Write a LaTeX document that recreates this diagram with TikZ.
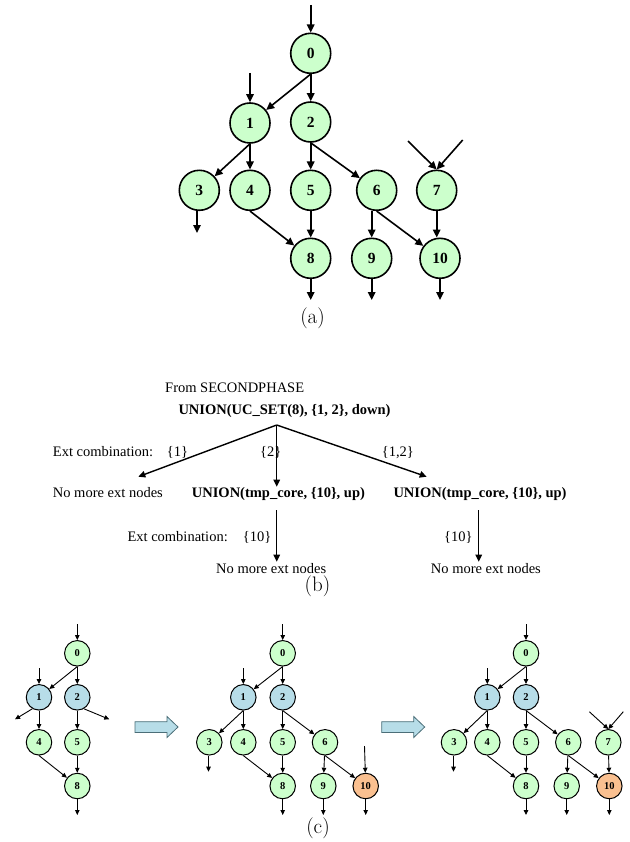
\documentclass[tikz,border=0pt]{standalone}
\usepackage{fontspec}
\newfontfamily\tms{Liberation Serif}
\usepackage{xcolor}
\usepackage{tikz}
\usetikzlibrary{arrows.meta,positioning,calc}

\definecolor{nodegreen}{RGB}{204,255,204}
\definecolor{nodeblue}{RGB}{183,221,232}
\definecolor{nodeorange}{RGB}{250,192,144}
\definecolor{blockfill}{RGB}{183,221,232}
\definecolor{blockedge}{RGB}{75,110,120}

\begin{document}
\begin{tikzpicture}[x=1pt, y=-1pt,
  bnode/.style={circle, draw, line width=1.6pt, fill=nodegreen, minimum size=40pt,
    inner sep=0pt, font=\tms\bfseries\fontsize{15.5}{18}\selectfont},
  snode/.style={circle, draw, line width=1pt, fill=nodegreen, minimum size=25.5pt,
    inner sep=0pt, font=\tms\bfseries\fontsize{10.5}{12}\selectfont},
  core/.style={fill=nodeblue},
  newext/.style={fill=nodeorange},
  barrow/.style={-{Triangle[length=8pt,width=7.5pt]}, line width=1.6pt},
  tarrow/.style={-{Triangle[length=7pt,width=6.5pt]}, line width=1.4pt},
  sarrow/.style={-{Triangle[length=5pt,width=4.5pt]}, line width=0.9pt},
  btext/.style={font=\tms\fontsize{14.5}{17}\selectfont, inner sep=0pt, anchor=base west},
  sublabel/.style={font=\fontsize{21}{25}\selectfont, inner sep=0pt},
  blockarr/.style={draw=blockedge, fill=blockfill, line width=0.8pt}]
  \useasboundingbox (0,0) rectangle (629,842);

  % (a) the whole graph
  \node[bnode] (a0) at (310.7,53.3) {0};
  \node[bnode] (a1) at (250,123) {1};
  \node[bnode] (a2) at (310.7,122) {2};
  \node[bnode] (a3) at (199.3,190.3) {3};
  \node[bnode] (a4) at (250,190.3) {4};
  \node[bnode] (a5) at (310.7,190.3) {5};
  \node[bnode] (a6) at (376.7,190.3) {6};
  \node[bnode] (a7) at (436.7,190.3) {7};
  \node[bnode] (a8) at (310.7,258.3) {8};
  \node[bnode] (a9) at (371.7,258.3) {9};
  \node[bnode] (a10) at (440,258.3) {10};
  \coordinate (a0in) at (310.7,5);
  \coordinate (a1in) at (250,73);
  \coordinate (a7inl) at (408,141);
  \coordinate (a7inr) at (462.7,140);
  \coordinate (a3out) at (197,233);
  \coordinate (a8out) at (310.7,300);
  \coordinate (a9out) at (371.7,300);
  \coordinate (a10out) at (440,300);

  \draw[barrow] (a0in) -- (a0);
  \draw[barrow] (a1in) -- (a1);
  \draw[barrow] (a7inl) -- (a7.north);
  \draw[barrow] (a7inr) -- (a7.north);
  \draw[barrow] (a0.south) -- (a1);
  \draw[barrow] (a0) -- (a2);
  \draw[barrow] (a1.south) -- (a3);
  \draw[barrow] (a1) -- (a4);
  \draw[barrow] (a2) -- (a5);
  \draw[barrow] (a2.south) -- (a6);
  \draw[barrow] (a4.south) -- (a8);
  \draw[barrow] (a5) -- (a8);
  \draw[barrow] (a6.south -| a9) -- (a9);
  \draw[barrow] (a6.south) -- (a10);
  \draw[barrow] (a7.south) -- (a7.south |- a10.north);
  \draw[barrow] (a3.south -| a3out) -- (a3out);
  \draw[barrow] (a8) -- (a8out);
  \draw[barrow] (a9) -- (a9out);
  \draw[barrow] (a10) -- (a10out);
  \node[sublabel] (capa) at (312.5,318) {(a)};

  % (b) search tree of the unions
  \node[btext] (from) at (165,392.7) {From SECONDPHASE};
  \node[btext, font=\tms\bfseries\fontsize{14.5}{17}\selectfont] (root) at (178.3,414)
    {UNION(UC\_SET(8), \{1, 2\}, down)};
  \node[btext] (ext1) at (52.7,456) {Ext combination:};
  \node[btext] (lbl1) at (166.7,456) {\{1\}};
  \node[btext] (lbl2) at (260,456) {\{2\}};
  \node[btext] (lbl12) at (381.7,456) {\{1,2\}};
  \node[btext] (leftend) at (52.7,497.7) {No more ext nodes};
  \node[btext, font=\tms\bfseries\fontsize{14.5}{17}\selectfont] (midun) at (191.7,497.7)
    {UNION(tmp\_core, \{10\}, up)};
  \node[btext, font=\tms\bfseries\fontsize{14.5}{17}\selectfont] (rightun) at (393.3,497.7)
    {UNION(tmp\_core, \{10\}, up)};
  \node[btext] (ext2) at (127.3,541) {Ext combination:};
  \node[btext] (lbl10) at (242.7,541) {\{10\}};
  \node[btext] (lbl10r) at (444,541) {\{10\}};
  \node[btext] (midend) at (216,573.3) {No more ext nodes};
  \node[btext] (rightend) at (430.7,573.3) {No more ext nodes};
  \coordinate (apex) at (276.7,425);
  \coordinate (tleft) at (138.3,476.7);
  \coordinate (tmid) at (276.7,486.7);
  \coordinate (tright) at (426.7,476.7);
  \coordinate (midtop) at (276.7,510);
  \coordinate (midbot) at (276.7,561.7);
  \coordinate (righttop) at (478.7,510);
  \coordinate (rightbot) at (478.7,561.7);

  \draw[tarrow] (apex) -- (tleft);
  \draw[tarrow] (apex) -- (tmid);
  \draw[tarrow] (apex) -- (tright);
  \draw[tarrow] (midtop) -- (midbot);
  \draw[tarrow] (righttop) -- (rightbot);
  \node[sublabel] (capb) at (317.5,586) {(b)};

  % (c) left: the union core
  \node[snode] (l0) at (77.3,653.3) {0};
  \node[snode, core] (l1) at (39,697.3) {1};
  \node[snode, core] (l2) at (77.3,697.3) {2};
  \node[snode] (l4) at (39,742.3) {4};
  \node[snode] (l5) at (77.3,742.3) {5};
  \node[snode] (l8) at (77.3,786) {8};
  \coordinate (l0in) at (77.3,624.3);
  \coordinate (l1in) at (39,668.3);
  \coordinate (l1out) at (15,719.3);
  \coordinate (l2out) at (109.3,719.3);
  \coordinate (l8out) at (77.3,815);

  \draw[sarrow] (l0in) -- (l0);
  \draw[sarrow] (l1in) -- (l1);
  \draw[sarrow] (l0.south) -- (l1);
  \draw[sarrow] (l0) -- (l2);
  \draw[sarrow] (l1.-120) -- (l1out);
  \draw[sarrow] (l2.-60) -- (l2out);
  \draw[sarrow] (l1) -- (l4);
  \draw[sarrow] (l2) -- (l5);
  \draw[sarrow] (l4.south) -- (l8);
  \draw[sarrow] (l5) -- (l8);
  \draw[sarrow] (l8) -- (l8out);

  \draw[blockarr] (135,721.7) -- (167,721.7) -- (167,716.5) -- (178,727)
    -- (167,737.5) -- (167,732.5) -- (135,732.5) -- cycle;

  % (c) middle: after down expansion
  \node[snode] (m0) at (282.7,653.3) {0};
  \node[snode, core] (m1) at (243.3,697.3) {1};
  \node[snode, core] (m2) at (282.7,697.3) {2};
  \node[snode] (m3) at (209.3,742.3) {3};
  \node[snode] (m4) at (243.3,742.3) {4};
  \node[snode] (m5) at (282.7,742.3) {5};
  \node[snode] (m6) at (325,742.3) {6};
  \node[snode] (m8) at (282.7,786) {8};
  \node[snode] (m9) at (323.3,786) {9};
  \node[snode, newext] (m10) at (365.7,786) {10};
  \coordinate (m0in) at (282.7,624.3);
  \coordinate (m1in) at (243.3,668.3);
  \coordinate (m10in) at (364.5,746);
  \coordinate (m3out) at (208.5,771.7);
  \coordinate (m8out) at (282.7,815);
  \coordinate (m9out) at (323.3,815);
  \coordinate (m10out) at (365.7,815);

  \draw[sarrow] (m0in) -- (m0);
  \draw[sarrow] (m1in) -- (m1);
  \draw[sarrow] (m10in) -- (m10);
  \draw[sarrow] (m0.south) -- (m1);
  \draw[sarrow] (m0) -- (m2);
  \draw[sarrow] (m1.south) -- (m3);
  \draw[sarrow] (m1) -- (m4);
  \draw[sarrow] (m2) -- (m5);
  \draw[sarrow] (m2.south) -- (m6);
  \draw[sarrow] (m4.south) -- (m8);
  \draw[sarrow] (m5) -- (m8);
  \draw[sarrow] (m6) -- (m9);
  \draw[sarrow] (m6.south) -- (m10);
  \draw[sarrow] (m3.south -| m3out) -- (m3out);
  \draw[sarrow] (m8) -- (m8out);
  \draw[sarrow] (m9) -- (m9out);
  \draw[sarrow] (m10) -- (m10out);

  \draw[blockarr] (381.7,721.7) -- (413.7,721.7) -- (413.7,716.5) -- (424.7,727)
    -- (413.7,737.5) -- (413.7,732.5) -- (381.7,732.5) -- cycle;

  % (c) right: after up expansion
  \node[snode] (r0) at (526,653.3) {0};
  \node[snode, core] (r1) at (487.3,697.3) {1};
  \node[snode, core] (r2) at (526,697.3) {2};
  \node[snode] (r3) at (454,742.3) {3};
  \node[snode] (r4) at (487.3,742.3) {4};
  \node[snode] (r5) at (526,742.3) {5};
  \node[snode] (r6) at (568.3,742.3) {6};
  \node[snode] (r7) at (608.3,742.3) {7};
  \node[snode] (r8) at (526,786) {8};
  \node[snode] (r9) at (566.7,786) {9};
  \node[snode, newext] (r10) at (609.3,786) {10};
  \coordinate (r0in) at (526,624.3);
  \coordinate (r1in) at (487.3,668.3);
  \coordinate (r7inl) at (589.3,711.7);
  \coordinate (r7inr) at (623.3,711.7);
  \coordinate (r3out) at (453.5,771.7);
  \coordinate (r8out) at (526,815);
  \coordinate (r9out) at (566.7,815);
  \coordinate (r10out) at (609.3,815);

  \draw[sarrow] (r0in) -- (r0);
  \draw[sarrow] (r1in) -- (r1);
  \draw[sarrow] (r7inl) -- (r7.north);
  \draw[sarrow] (r7inr) -- (r7.north);
  \draw[sarrow] (r0.south) -- (r1);
  \draw[sarrow] (r0) -- (r2);
  \draw[sarrow] (r1.south) -- (r3);
  \draw[sarrow] (r1) -- (r4);
  \draw[sarrow] (r2) -- (r5);
  \draw[sarrow] (r2.south) -- (r6);
  \draw[sarrow] (r4.south) -- (r8);
  \draw[sarrow] (r5) -- (r8);
  \draw[sarrow] (r6) -- (r9);
  \draw[sarrow] (r6.south) -- (r10);
  \draw[sarrow] (r7) -- (r10);
  \draw[sarrow] (r3.south -| r3out) -- (r3out);
  \draw[sarrow] (r8) -- (r8out);
  \draw[sarrow] (r9) -- (r9out);
  \draw[sarrow] (r10) -- (r10out);
  \node[sublabel] (capc) at (318,828) {(c)};
\end{tikzpicture}
\end{document}
